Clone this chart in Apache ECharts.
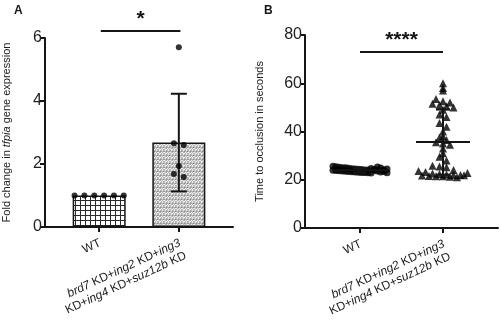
<!DOCTYPE html>
<html>
<head>
<meta charset="utf-8">
<script src="https://cdn.jsdelivr.net/npm/echarts/dist/echarts.min.js"></script>
<style>html,body{margin:0;padding:0;background:#fff}#c{width:500px;height:323px}</style>
</head>
<body>
<div id="c"></div>
<script>
// ---------- data ----------
const categories = ['WT', 'brd7 KD+ing2 KD+ing3 KD+ing4 KD+suz12b KD'];
const catPos = [1, 2];   // group positions on the x scale
// Panel A: fold change in tfpia expression
const meanA = [1.0, 2.68];
const sdA = [0, 1.55];
const pointsA_WT = [1.0, 1.0, 1.0, 1.0, 1.0, 1.0];
const pointsA_KD = [5.71, 2.66, 2.60, 1.94, 1.68, 1.59];
const yTicksA = [0, 2, 4, 6];
const sigA = [1.02, 2.02, 6.22, 6.6];   // x from, x to, line y, star y
const sigLabelA = '*';
// Panel B: time to occlusion (s)
const meanB = [23.9, 35.6];
const sdB = [0.9, 13.5];
const pointsB_WT = [25.6, 25.4, 25.2, 25.0, 25.0, 24.8, 24.6, 24.5, 24.4, 24.2, 24.0, 24.0,
  23.9, 23.8, 23.7, 23.6, 23.5, 23.4, 23.3, 23.2, 23.1, 23.0, 23.0, 22.9, 22.8,
  24.7, 24.3, 23.9, 23.6, 23.2, 25.3, 24.9, 24.1, 23.4, 22.9, 24.5];
const pointsB_KD = [60.0, 58.0, 57.0, 53.5, 52.5, 52.0, 51.5, 51.0, 50.5, 50.0, 49.0, 47.0, 46.0,
  43.5, 42.0, 40.0, 38.0, 37.5, 36.5, 35.5, 35.0, 34.5, 33.0, 31.0, 29.5, 28.0,
  25.8, 25.5, 25.2, 24.0, 23.6, 23.2, 22.6, 22.4, 22.2, 22.0, 22.0, 21.8, 21.6, 21.5,
  21.4, 21.2, 21.0, 22.8, 21.9];
const yTicksB = [0, 20, 40, 60, 80];
const sigB = [1.0, 2.0, 73.0, 77.8];
const sigLabelB = '****';

// ---------- layout / style ----------
const FONT = '"Liberation Sans", Arial, sans-serif';
const INK = '#151515';
const gridA = {left: 42, top: 38, width: 191, height: 189};
const gridB = {left: 305, top: 35, width: 193, height: 193};
const xRangeA = [0.32, 2.68];
const xRangeB = [0.337, 2.663];

// Prism-like row layout of dots: rows by value bin, centred horizontally
function swarm(values, center, binSize, spacingPx, maxHalfPx, pxPerUnit) {
  const bins = {};
  values.forEach(v => {
    const b = Math.floor(v / binSize + 1e-9);
    (bins[b] = bins[b] || []).push(v);
  });
  const out = [];
  Object.keys(bins).forEach(k => {
    const row = bins[k];
    const n = row.length;
    let sp = spacingPx;
    if (n > 1 && (n - 1) * sp > 2 * maxHalfPx) sp = 2 * maxHalfPx / (n - 1);
    row.forEach((v, i) => out.push([center + (i - (n - 1) / 2) * sp / pxPerUnit, v]));
  });
  return out;
}
const pxA = gridA.width / (xRangeA[1] - xRangeA[0]);
const pxB = gridB.width / (xRangeB[1] - xRangeB[0]);

function gridPattern() {
  const c = document.createElement('canvas');
  c.width = 5; c.height = 5;
  const g = c.getContext('2d');
  g.fillStyle = '#fff'; g.fillRect(0, 0, 5, 5);
  g.fillStyle = '#2a2a2a'; g.fillRect(0, 0, 5, 1); g.fillRect(0, 0, 1, 5);
  return {image: c, repeat: 'repeat'};
}
function wavePattern() {
  const c = document.createElement('canvas');
  c.width = 6; c.height = 4;
  const g = c.getContext('2d');
  g.fillStyle = '#b4b4b4'; g.fillRect(0, 0, 6, 4);
  g.fillStyle = '#ededed';
  [[0,1],[1,0],[2,0],[3,1],[4,1],[5,0],[0,2],[3,2]].forEach(p => g.fillRect(p[0], p[1], 1, 1));
  g.fillStyle = '#8c8c8c';
  [[1,3],[4,3]].forEach(p => g.fillRect(p[0], p[1], 1, 1));
  return {image: c, repeat: 'repeat'};
}
const barFills = [gridPattern(), wavePattern()];

// rich-text form of the category names (gene names italic)
const catRich = [
  '{n|WT}',
  '{i|brd7}{n| KD+}{i|ing2}{n| KD+}{i|ing3}\n{n|KD+}{i|ing4}{n| KD+}{i|suz12b}{n| KD}'
];
const LABEL_RICH = {
  n: {fontFamily: FONT, fontSize: 12, color: '#222', lineHeight: 14},
  i: {fontFamily: FONT, fontSize: 12, color: '#222', fontStyle: 'italic', lineHeight: 14}
};

function xAxisCfg(gi, range) {
  return {
    type: 'value', gridIndex: gi, min: range[0], max: range[1],
    splitLine: {show: false},
    axisLine: {lineStyle: {color: INK, width: 2}},
    axisTick: {show: true, customValues: catPos, length: 5, lineStyle: {color: INK, width: 2}},
    axisLabel: {show: false}
  };
}
function yAxisCfg(gi, ticks, name, gap) {
  return {
    type: 'value', gridIndex: gi, min: ticks[0], max: ticks[ticks.length - 1],
    interval: ticks[1] - ticks[0],
    splitLine: {show: false},
    axisLine: {show: true, lineStyle: {color: INK, width: 2}},
    axisTick: {show: true, length: 5, lineStyle: {color: INK, width: 2}},
    axisLabel: {color: '#222', fontFamily: FONT, fontSize: 16, margin: 3},
    name: name, nameLocation: 'middle', nameGap: gap,
    nameTextStyle: {
      color: '#222', fontFamily: FONT, fontSize: 11,
      rich: {
        n: {fontFamily: FONT, fontSize: 11, color: '#222'},
        i: {fontFamily: FONT, fontSize: 11, color: '#222', fontStyle: 'italic'}
      }
    }
  };
}

// rotated category labels hung under each tick of the x scale (rotation on a wrapping group)
function catLabelSeries(xi, yMin) {
  return {
    type: 'custom', xAxisIndex: xi, yAxisIndex: xi, clip: false, silent: true, z: 6,
    data: catPos.map((p, i) => [p, yMin, i]),
    encode: {x: 0, y: 1},
    renderItem: function (params, api) {
      const pt = api.coord([api.value(0), api.value(1)]);
      return {
        type: 'group', x: pt[0] - 2, y: pt[1] + 9, rotation: 25 * Math.PI / 180,
        children: [{
          type: 'text', x: 0, y: 0,
          style: {text: catRich[api.value(2)], rich: LABEL_RICH, align: 'right', verticalAlign: 'top',
                  fontFamily: FONT, fontSize: 12, fill: '#222'}
        }]
      };
    }
  };
}

function errorSeries(xi, means, sds, capPx, meanPx) {
  return {
    type: 'custom', xAxisIndex: xi, yAxisIndex: xi, z: 5, silent: true,
    data: means.map((m, i) => [catPos[i], m, sds[i]]),
    encode: {x: 0, y: 1},
    renderItem: function (params, api) {
      const x = api.value(0), m = api.value(1), s = api.value(2);
      const st = {stroke: INK, lineWidth: 2};
      const ch = [];
      const mid = api.coord([x, m]);
      if (meanPx > 0) ch.push({type: 'line', shape: {x1: mid[0] - meanPx, y1: mid[1], x2: mid[0] + meanPx, y2: mid[1]}, style: st});
      if (s > 0) {
        const t = api.coord([x, m + s]), b = api.coord([x, m - s]);
        ch.push({type: 'line', shape: {x1: t[0], y1: t[1], x2: b[0], y2: b[1]}, style: st});
        ch.push({type: 'line', shape: {x1: t[0] - capPx, y1: t[1], x2: t[0] + capPx, y2: t[1]}, style: st});
        ch.push({type: 'line', shape: {x1: b[0] - capPx, y1: b[1], x2: b[0] + capPx, y2: b[1]}, style: st});
      }
      return {type: 'group', children: ch};
    }
  };
}
function sigSeries(xi, sig, label) {
  return {
    type: 'custom', xAxisIndex: xi, yAxisIndex: xi, clip: false, silent: true, z: 6,
    data: [sig],
    renderItem: function (params, api) {
      const a = api.coord([api.value(0), api.value(2)]);
      const b = api.coord([api.value(1), api.value(2)]);
      const s = api.coord([(api.value(0) + api.value(1)) / 2, api.value(3)]);
      return {type: 'group', children: [
        {type: 'line', shape: {x1: a[0], y1: a[1], x2: b[0], y2: b[1]}, style: {stroke: INK, lineWidth: 2}},
        {type: 'text', x: s[0], y: s[1], style: {text: label, fill: INK, fontFamily: FONT, fontWeight: 'bold', fontSize: 21, align: 'center', verticalAlign: 'middle'}}
      ]};
    }
  };
}

const chart = echarts.init(document.getElementById('c'), null, {renderer: 'canvas'});
chart.setOption({
  animation: false,
  backgroundColor: '#fff',
  title: [
    {text: 'A', left: 9, top: 0, textStyle: {fontFamily: FONT, fontSize: 12, fontWeight: 'bold', color: INK}},
    {text: 'B', left: 259, top: 0, textStyle: {fontFamily: FONT, fontSize: 12, fontWeight: 'bold', color: INK}}
  ],
  grid: [
    Object.assign({containLabel: false}, gridA),
    Object.assign({containLabel: false}, gridB)
  ],
  xAxis: [xAxisCfg(0, xRangeA), xAxisCfg(1, xRangeB)],
  yAxis: [
    yAxisCfg(0, yTicksA, '{n|Fold change in }{i|tfpia}{n| gene expression}', 33),
    yAxisCfg(1, yTicksB, 'Time to occlusion in seconds', 40)
  ],
  series: [
    {
      type: 'bar', xAxisIndex: 0, yAxisIndex: 0, barWidth: 53, z: 2, silent: true,
      data: meanA.map((m, i) => ({value: [catPos[i], m], itemStyle: {color: barFills[i]}})),
      itemStyle: {borderColor: INK, borderWidth: 1.5}
    },
    errorSeries(0, meanA, sdA, 8, 0),
    {
      type: 'scatter', xAxisIndex: 0, yAxisIndex: 0, z: 7, silent: true,
      symbol: 'circle', symbolSize: 6, itemStyle: {color: '#000'},
      data: swarm(pointsA_WT, catPos[0], 0.25, 10, 26, pxA).concat(swarm(pointsA_KD, catPos[1], 0.25, 10, 26, pxA))
    },
    sigSeries(0, sigA, sigLabelA),
    catLabelSeries(0, yTicksA[0]),
    {
      type: 'scatter', xAxisIndex: 1, yAxisIndex: 1, z: 3, silent: true,
      symbol: 'circle', symbolSize: 7, itemStyle: {color: '#000'},
      data: swarm(pointsB_WT, catPos[0], 2, 7, 27, pxB)
    },
    {
      type: 'scatter', xAxisIndex: 1, yAxisIndex: 1, z: 3, silent: true,
      symbol: 'triangle', symbolSize: 8, itemStyle: {color: '#000'},
      data: swarm(pointsB_KD, catPos[1], 2, 7, 27, pxB)
    },
    errorSeries(1, meanB, sdB, 7, 27),
    sigSeries(1, sigB, sigLabelB),
    catLabelSeries(1, yTicksB[0])
  ]
});
</script>
</body>
</html>
